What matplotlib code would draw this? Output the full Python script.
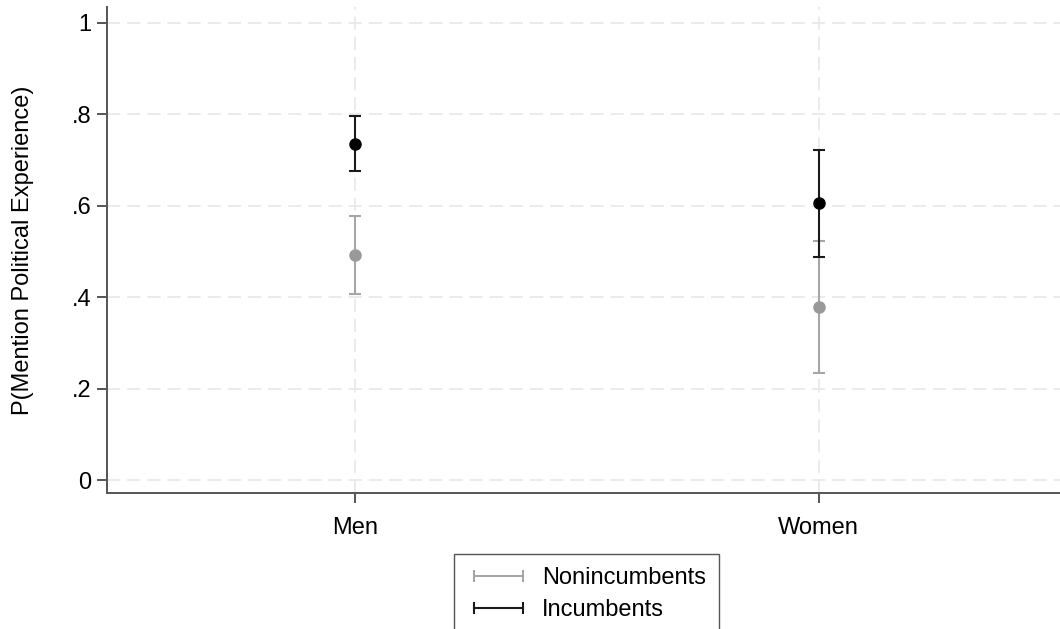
import matplotlib
matplotlib.use("Agg")
import matplotlib.pyplot as plt
from matplotlib.lines import Line2D

plt.rcParams['font.family'] = ['Liberation Sans', 'DejaVu Sans']
plt.rcParams['lines.scale_dashes'] = False

groups = ["Men", "Women"]
xpos = [1, 2]

# point estimates and 95% CIs
noninc_est = [0.492, 0.378]
noninc_lo = [0.407, 0.235]
noninc_hi = [0.577, 0.522]

inc_est = [0.735, 0.606]
inc_lo = [0.675, 0.488]
inc_hi = [0.796, 0.722]

yticks = [0, 0.2, 0.4, 0.6, 0.8, 1]
ytick_labels = ["0", ".2", ".4", ".6", ".8", "1"]

fig = plt.figure(figsize=(10.6, 6.29), dpi=100)
ax = fig.add_axes([107 / 1060, 1 - 493 / 629, 1 - 107 / 1060, (493 - 7) / 629])

grid_kw = dict(color="#e6e6e6", lw=1.1, dashes=(9.5, 5), zorder=0)
for y in yticks:
    ax.axhline(y, **grid_kw)
for x in xpos:
    ax.axvline(x, **grid_kw)


def draw(est, lo, hi, line_col, dot_col):
    err = [[e - l for e, l in zip(est, lo)], [h - e for e, h in zip(est, hi)]]
    ax.errorbar(xpos, est, yerr=err, fmt="none", ecolor=line_col, elinewidth=1.5,
                capsize=4.5, capthick=1.5, zorder=2)
    ax.plot(xpos, est, "o", color=dot_col, ms=8, zorder=3)


draw(noninc_est, noninc_lo, noninc_hi, "#a6a6a6", "#999999")
draw(inc_est, inc_lo, inc_hi, "#1a1a1a", "#000000")

ax.set_xlim(0.466, 2.52)
ax.set_ylim(-0.028, 1.034)
ax.set_xticks(xpos)
ax.set_xticklabels(groups)
ax.set_yticks(yticks)
ax.set_yticklabels(ytick_labels)
ax.tick_params(axis="both", labelsize=17, colors="#555555", labelcolor="black",
               length=7, width=1.4)
ax.tick_params(axis="x", pad=10)
ax.tick_params(axis="y", pad=4)
for s in ["top", "right"]:
    ax.spines[s].set_visible(False)
for s in ["left", "bottom"]:
    ax.spines[s].set_color("#555555")
    ax.spines[s].set_linewidth(1.4)

ax.set_ylabel("P(Mention Political Experience)", fontsize=17)
ax.yaxis.set_label_coords(-0.0766, 0.5)

handles = [
    Line2D([0], [0], color="#a6a6a6", lw=1.5, marker="|", ms=8, mew=1.5),
    Line2D([0], [0], color="#1a1a1a", lw=1.5, marker="|", ms=8, mew=1.5),
]
fig.legend(handles, ["Nonincumbents", "Incumbents"], loc="upper center",
           bbox_to_anchor=(586.5 / 1060, 1 - 554 / 629), numpoints=2,
           fontsize=17, frameon=True, fancybox=False, edgecolor="#555555",
           framealpha=1, handlelength=2.7, labelspacing=0.42, borderpad=0.55,
           handletextpad=0.5, borderaxespad=0)

fig.savefig("out.png", dpi=100)
